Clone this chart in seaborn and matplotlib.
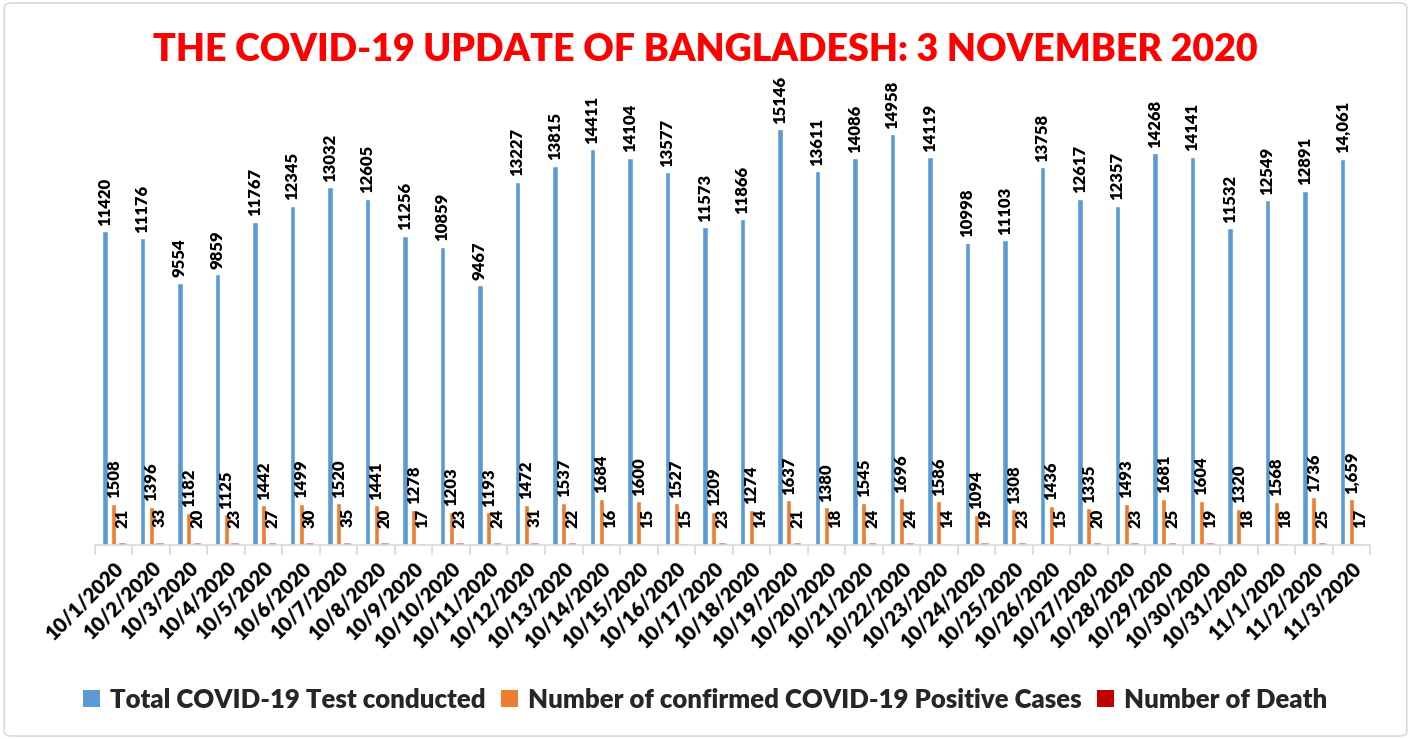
import matplotlib
matplotlib.use("Agg")
import matplotlib.pyplot as plt
import seaborn as sns
import pandas as pd
import numpy as np
from matplotlib.patches import FancyBboxPatch, Patch

dates = ["10/1/2020", "10/2/2020", "10/3/2020", "10/4/2020", "10/5/2020", "10/6/2020",
         "10/7/2020", "10/8/2020", "10/9/2020", "10/10/2020", "10/11/2020", "10/12/2020",
         "10/13/2020", "10/14/2020", "10/15/2020", "10/16/2020", "10/17/2020", "10/18/2020",
         "10/19/2020", "10/20/2020", "10/21/2020", "10/22/2020", "10/23/2020", "10/24/2020",
         "10/25/2020", "10/26/2020", "10/27/2020", "10/28/2020", "10/29/2020", "10/30/2020",
         "10/31/2020", "11/1/2020", "11/2/2020", "11/3/2020"]
tests = [11420, 11176, 9554, 9859, 11767, 12345, 13032, 12605, 11256, 10859, 9467, 13227,
         13815, 14411, 14104, 13577, 11573, 11866, 15146, 13611, 14086, 14958, 14119, 10998,
         11103, 13758, 12617, 12357, 14268, 14141, 11532, 12549, 12891, 14061]
cases = [1508, 1396, 1182, 1125, 1442, 1499, 1520, 1441, 1278, 1203, 1193, 1472, 1537, 1684,
         1600, 1527, 1209, 1274, 1637, 1380, 1545, 1696, 1586, 1094, 1308, 1436, 1335, 1493,
         1681, 1604, 1320, 1568, 1736, 1659]
deaths = [21, 33, 20, 23, 27, 30, 35, 20, 17, 23, 24, 31, 22, 16, 15, 15, 23, 14, 21, 18, 24,
          24, 14, 19, 23, 15, 20, 23, 25, 19, 18, 18, 25, 17]
series = ["Total COVID-19 Test conducted", "Number of confirmed COVID-19 Positive Cases",
          "Number of Death"]
colors = ["#5B9BD5", "#ED7D31", "#C00000"]
title = "THE COVID-19 UPDATE OF BANGLADESH: 3 NOVEMBER 2020"

sns.set_theme(style="white")
plt.rcParams['font.family'] = ['Lato', 'DejaVu Sans']
W = 'heavy'

df = pd.DataFrame({
    "date": dates * 3,
    "value": tests + cases + deaths,
    "series": [series[0]] * len(dates) + [series[1]] * len(dates) + [series[2]] * len(dates),
})

fig = plt.figure(figsize=(14.11, 7.39), dpi=100)
ax = fig.add_axes([0.0673, 0.2625, 0.9037, 0.5945])
sns.barplot(data=df, x="date", y="value", hue="series", hue_order=series, order=dates,
            palette=colors, width=0.7, gap=0.4, saturation=1, errorbar=None,
            legend=False, ax=ax)

def fmt(v, i):
    if i == len(dates) - 1 and v >= 1000:
        return f"{v:,}"
    return str(v)

lab_tests = [fmt(v, i) for i, v in enumerate(tests)]
lab_cases = [fmt(v, i) for i, v in enumerate(cases)]
lab_deaths = [str(v) for v in deaths]

ax.bar_label(ax.containers[0], labels=lab_tests, rotation=90, padding=4,
             fontsize=12, fontweight=W, color='black')
ax.bar_label(ax.containers[1], labels=lab_cases, rotation=90, padding=4,
             fontsize=12, fontweight=W, color='black')
ax.bar_label(ax.containers[2], labels=lab_deaths, rotation=90, padding=12,
             fontsize=12, fontweight=W, color='black')
for p in ax.containers[2]:
    p.set_edgecolor("#F08080")
    p.set_linewidth(1.2)

ax.set_xlim(-0.5, len(dates) - 0.5)
ax.set_ylim(0, 16000)
ax.set_yticks([])
ax.set_xlabel("")
ax.set_ylabel("")
for s in ["top", "left", "right"]:
    ax.spines[s].set_visible(False)
ax.spines["bottom"].set_color("#D9D9D9")
ax.spines["bottom"].set_linewidth(1.2)

ax.set_xticks(range(len(dates)))
ax.set_xticklabels(dates, rotation=45, ha='right', rotation_mode='anchor',
                   fontsize=14.5, fontweight=W, color='black')
ax.set_xticks(np.arange(-0.5, len(dates), 1), minor=True)
ax.tick_params(axis='x', which='minor', length=7, color='#D9D9D9', width=1.2, bottom=True)
ax.tick_params(axis='x', which='major', length=0, pad=9)

fig.text(0.5, 0.932, title, ha='center', va='center', color='#FF0000',
         fontsize=27, fontweight=W)

handles = [Patch(facecolor=c, edgecolor='none', label=s) for c, s in zip(colors, series)]
fig.legend(handles=handles, loc='center', bbox_to_anchor=(0.5, 0.053), ncol=3,
           frameon=False, prop={'weight': W, 'size': 18.5},
           handlelength=0.65, handleheight=0.65, handletextpad=0.4, columnspacing=0.6)

border = FancyBboxPatch((0.003, 0.004), 0.994, 0.992, boxstyle="round,pad=0,rounding_size=0.006",
                        transform=fig.transFigure, facecolor='none', edgecolor='#D9D9D9',
                        linewidth=1.2)
fig.patches.append(border)

fig.savefig("out.png", dpi=100)
